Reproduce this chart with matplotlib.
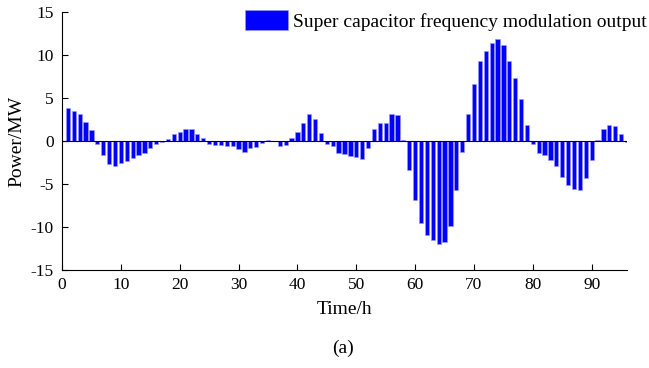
import matplotlib
matplotlib.use("Agg")
import matplotlib.pyplot as plt
import numpy as np

plt.rcParams['font.family'] = ['Liberation Serif', 'DejaVu Serif']
plt.rcParams['axes.unicode_minus'] = False

# time index 1..96
hours = np.arange(1, 97)
# super capacitor output, MW
power = [3.8, 3.5, 3.1, 2.25, 1.25, -0.3, -1.6, -2.7, -2.9, -2.6,
         -2.3, -2.0, -1.6, -1.35, -0.8, -0.3, -0.1, 0.2, 0.85, 1.1,
         1.45, 1.35, 0.8, 0.4, -0.3, -0.5, -0.5, -0.6, -0.6, -0.9,
         -1.25, -0.8, -0.7, -0.2, 0.1, 0.05, -0.55, -0.5, 0.3, 1.05,
         2.15, 3.1, 2.6, 0.9, -0.35, -0.55, -1.4, -1.55, -1.75, -1.9,
         -2.15, -0.8, 1.4, 2.15, 2.1, 3.1, 3.05, 0.15, -3.4, -6.9,
         -9.55, -10.9, -11.5, -12.0, -11.8, -9.9, -5.7, -1.25, 3.1, 6.6,
         9.25, 10.5, 11.45, 11.9, 11.15, 9.35, 7.35, 4.85, 1.9, -0.35,
         -1.4, -1.65, -2.25, -2.9, -4.2, -5.1, -5.55, -5.75, -4.3, -2.2,
         0.15, 1.45, 1.9, 1.7, 0.87, -0.1]

xticks = [0, 10, 20, 30, 40, 50, 60, 70, 80, 90]
yticks = [-15, -10, -5, 0, 5, 10, 15]

fig = plt.figure(figsize=(6.49, 3.68), dpi=100)
ax = fig.add_axes([62/649, 1-270/368, (627-62)/649, (270-12)/368])

bars = ax.bar(hours, power, width=0.72, color='#0000ff', edgecolor='#9a9aff', linewidth=0.4,
              label='Super capacitor frequency modulation output')
ax.axhline(0, color='black', lw=0.8)

ax.set_xlim(0, 96)
ax.set_ylim(-15, 15)
ax.set_xticks(xticks)
ax.set_yticks(yticks)
ax.tick_params(direction='in', labelsize=12.5, length=4, width=0.8)
ax.tick_params(axis='y', pad=6)
ax.tick_params(axis='x', pad=5)
ax.spines['top'].set_visible(False)
ax.spines['right'].set_visible(False)

ax.set_ylabel('Power/MW', fontsize=14, labelpad=4)
ax.set_xlabel('Time/h', fontsize=14, labelpad=6)
fig.text(343/649, 1-348/368, '(a)', fontsize=14, ha='center', va='center')

fig.legend(handles=[bars], loc='upper left', bbox_to_anchor=(245/649, 1-10/368),
           frameon=False, fontsize=14, handlelength=2.2, handleheight=1.2,
           handletextpad=0.25, borderpad=0, borderaxespad=0)

fig.savefig('out.png', dpi=100)
